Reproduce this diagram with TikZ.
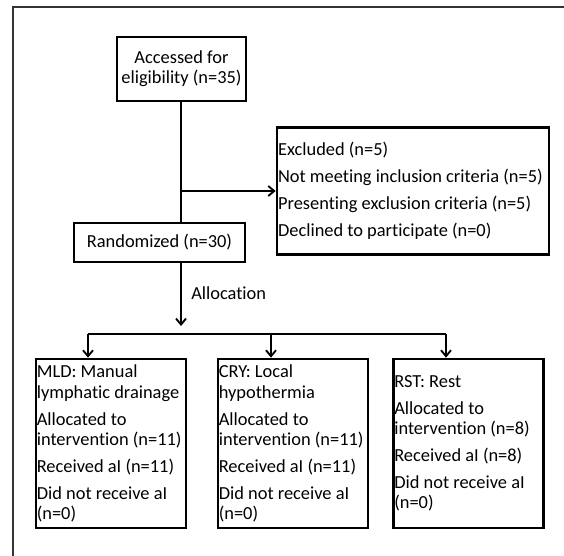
\documentclass[tikz,border=0pt]{standalone}
\usepackage{fontspec}
\setmainfont{Carlito}[Ligatures=NoCommon]
\usetikzlibrary{arrows.meta}
\begin{document}
\begin{tikzpicture}[x=0.75pt,y=-0.75pt,
  every node/.style={font=\fontsize{13.8}{15.2}\selectfont},
  boxc/.style={draw=black,line width=2pt,align=center,inner sep=1.5pt},
  boxe/.style={draw=black,line width=2pt,inner sep=0pt},
  txt/.style={align=left,inner sep=0pt,anchor=west},
  conn/.style={line width=1.4pt,black},
  arr/.style={conn,-{Straight Barb[length=4.5pt,width=7.5pt,line width=1.4pt]}},
  frame/.style={line width=1.3pt,black!80}]
\useasboundingbox (0,0) rectangle (564,556);
\draw[frame] (13,556) -- (13,7) -- (564,7);

\node[boxc,minimum width=96.75pt,minimum height=48pt] (acc) at (181.5,69)
  {Accessed for\\eligibility (n=35)};
\node[boxe,minimum width=204pt,minimum height=95.25pt] (exc) at (413,191) {};
\node[txt] (exct) at ([xshift=1.6pt]exc.west)
  {Excluded (n=5)\\[5pt]Not meeting inclusion criteria (n=5)\\[5pt]Presenting exclusion criteria (n=5)\\[5pt]Declined to participate (n=0)};
\node[boxc,minimum width=128.25pt,minimum height=29.25pt] (ran) at (159.5,242.5)
  {Randomized (n=30)};
\node[anchor=base west,inner sep=0pt] (alloc) at (191,299) {Allocation};

\node[boxe,minimum width=112.5pt,minimum height=126.75pt] (mld) at (111,443.5) {};
\node[txt] (mldt) at ([xshift=1.4pt]mld.west)
  {MLD: Manual\\lymphatic drainage\\[5pt]Allocated to\\intervention (n=11)\\[5pt]Received aI (n=11)\\[5pt]Did not receive aI\\(n=0)};
\node[boxe,minimum width=112.5pt,minimum height=126.75pt] (cry) at (293,443.5) {};
\node[txt] (cryt) at ([xshift=1.4pt]cry.west)
  {CRY: Local\\hypothermia\\[5pt]Allocated to\\intervention (n=11)\\[5pt]Received aI (n=11)\\[5pt]Did not receive aI\\(n=0)};
\node[boxe,minimum width=112.5pt,minimum height=126.75pt] (rst) at (468.5,443.5) {};
\node[txt] (rstt) at ([xshift=1.4pt]rst.west)
  {RST: Rest\\[5pt]Allocated to\\intervention (n=8)\\[5pt]Received aI (n=8)\\[5pt]Did not receive aI\\(n=0)};

\coordinate (top) at (181,101);
\coordinate (j) at (181,191);
\coordinate (atip) at (181,326);
\coordinate (hl) at (88,334);
\coordinate (hm) at (271,334);
\coordinate (hr) at (446,334);

\draw[conn] (acc.south -| top) -- (ran.north -| top);
\draw[arr] (j) -- (exc.west);
\draw[arr] (ran.south -| top) -- (atip);
\draw[conn] (hl) -- (hr);
\draw[arr] (hl) -- (hl |- mld.north);
\draw[arr] (hm) -- (hm |- cry.north);
\draw[arr] (hr) -- (hr |- rst.north);
\end{tikzpicture}
\end{document}
